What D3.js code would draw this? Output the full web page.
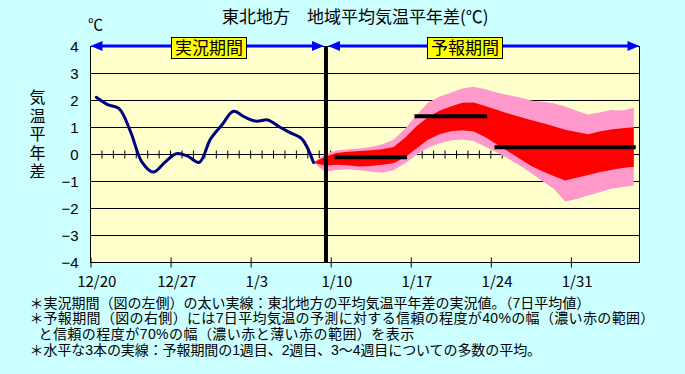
<!DOCTYPE html>
<html>
<head>
<meta charset="utf-8">
<script src="https://cdn.jsdelivr.net/npm/d3@7"></script>
<style>
  html, body { margin: 0; padding: 0; background: #ccffff; }
  svg { display: block; }
</style>
</head>
<body>
<svg id="chart" width="685" height="374"></svg>
<script>
// 東北地方 地域平均気温平年差 (12/20 から 1 日ごと)
const title = '東北地方　地域平均気温平年差(℃)';
const unitLabel = '℃';
const yAxisTitle = '気温平年差';
const dateLabels = ['12/20', '12/27', '1/3', '1/10', '1/17', '1/24', '1/31'];
const yTicks = [-4, -3, -2, -1, 0, 1, 2, 3, 4];
const totalDays = 48;
const boundaryDay = 20.5;
const periodLabels = ['実況期間', '予報期間'];

// 実況値 (7日平均), 12/20 + 0.5 日から
const observedStart = 0.5;
const observed = [2.12, 1.85, 1.70, 0.85, -0.28, -0.65, -0.29, 0.03, -0.06, -0.29,
                  0.58, 1.10, 1.60, 1.38, 1.23, 1.28, 1.03, 0.80, 0.57, -0.30];

// 予報 (70% 幅 = 薄い赤, 40% 幅 = 濃い赤)
const forecastStart = 19.5;
const upper70 = [-0.30, 0.02, 0.15, 0.19, 0.22, 0.28, 0.38, 0.55, 0.95, 1.45,
                 1.92, 2.14, 2.29, 2.44, 2.51, 2.42, 2.30, 2.20, 2.12, 2.00,
                 1.95, 1.90, 1.78, 1.62, 1.48, 1.56, 1.65, 1.63, 1.72];
const upper40 = [-0.30, -0.08, 0.06, 0.10, 0.13, 0.16, 0.19, 0.28, 0.62, 1.05,
                 1.38, 1.62, 1.78, 1.92, 1.93, 1.80, 1.66, 1.52, 1.40, 1.28,
                 1.17, 1.05, 0.92, 0.83, 0.75, 0.85, 0.93, 0.97, 1.01];
const lower40 = [-0.30, -0.42, -0.38, -0.40, -0.44, -0.43, -0.38, -0.32, -0.10, 0.22,
                 0.55, 0.75, 0.86, 0.90, 0.85, 0.65, 0.38, 0.12, -0.15, -0.42,
                 -0.62, -0.80, -0.96, -0.86, -0.76, -0.66, -0.57, -0.50, -0.45];
const lower70 = [-0.30, -0.65, -0.57, -0.55, -0.58, -0.63, -0.68, -0.58, -0.32, -0.02,
                 0.25, 0.42, 0.52, 0.56, 0.50, 0.30, 0.08, -0.15, -0.40, -0.68,
                 -0.98, -1.27, -1.74, -1.65, -1.52, -1.40, -1.27, -1.20, -1.15];

// 1週目, 2週目, 3～4週目の平均
const weekFrom = [21.5, 28.5, 35.5];
const weekTo = [27.5, 34.5, 47.5];
const weekMean = [-0.10, 1.42, 0.27];

const notes = [
  { star: true, text: '実況期間（図の左側）の太い実線：東北地方の平均気温平年差の実況値。（7日平均値）' },
  { star: true, text: '予報期間（図の右側）には7日平均気温の予測に対する信頼の程度が40%の幅（濃い赤の範囲）' },
  { star: false, text: 'と信頼の程度が70%の幅（濃い赤と薄い赤の範囲）を表示' },
  { star: true, text: '水平な3本の実線：予報期間の1週目、2週目、3～4週目についての多数の平均。' }
];

const jp = '"Noto Sans CJK JP", "Noto Sans", sans-serif';
const svg = d3.select('#chart');

const x = d3.scaleLinear().domain([0, totalDays]).range([90.5, 639.5]);
const y = d3.scaleLinear().domain([-4, 4]).range([262.5, 46.5]);

// plot background
svg.append('rect')
  .attr('x', x(0)).attr('y', y(4))
  .attr('width', x(totalDays) - x(0)).attr('height', y(-4) - y(4))
  .attr('fill', '#ffffcc');

// grid lines
svg.append('g').selectAll('line')
  .data(yTicks)
  .join('line')
  .attr('x1', x(0)).attr('x2', x(totalDays))
  .attr('y1', d => y(d)).attr('y2', d => y(d))
  .attr('stroke', '#000').attr('stroke-width', 1);

// daily ticks on the zero line
svg.append('g').selectAll('line')
  .data(d3.range(1, totalDays))
  .join('line')
  .attr('x1', d => x(d)).attr('x2', d => x(d))
  .attr('y1', y(0) - 4).attr('y2', y(0) + 4)
  .attr('stroke', '#000').attr('stroke-width', 1);

// forecast bands
const fDays = upper70.map((v, i) => forecastStart + i);
const band = (lo, hi) => d3.area()
  .x((d, i) => x(fDays[i]))
  .y0((d, i) => y(lo[i]))
  .y1((d, i) => y(hi[i]));

svg.append('path')
  .datum(fDays)
  .attr('fill', '#ff99cc')
  .attr('d', band(lower70, upper70));

svg.append('path')
  .datum(fDays)
  .attr('fill', '#ff0000')
  .attr('d', band(lower40, upper40));

// observed line
const line = d3.line()
  .x((d, i) => x(observedStart + i))
  .y(d => y(d))
  .curve(d3.curveCatmullRom.alpha(0.5));

svg.append('path')
  .datum(observed)
  .attr('fill', 'none')
  .attr('stroke', '#000080')
  .attr('stroke-width', 3)
  .attr('stroke-linejoin', 'round')
  .attr('stroke-linecap', 'round')
  .attr('d', line);

// weekly means
svg.append('g').selectAll('line')
  .data(weekMean)
  .join('line')
  .attr('x1', (d, i) => x(weekFrom[i])).attr('x2', (d, i) => x(weekTo[i]))
  .attr('y1', d => y(d)).attr('y2', d => y(d))
  .attr('stroke', '#000').attr('stroke-width', 4)
  .attr('stroke-linecap', 'square');

// frame
svg.append('rect')
  .attr('x', x(0)).attr('y', y(4))
  .attr('width', x(totalDays) - x(0)).attr('height', y(-4) - y(4))
  .attr('fill', 'none').attr('stroke', '#000').attr('stroke-width', 1);

// boundary line
const bx = x(boundaryDay) + 1;
svg.append('line')
  .attr('x1', bx).attr('x2', bx)
  .attr('y1', y(4)).attr('y2', y(-4))
  .attr('stroke', '#000').attr('stroke-width', 4);

// period arrows
const ay = y(4) - 0.5;
const arrows = [[x(0), bx - 2], [bx + 2, x(totalDays)]];
const head = (tip, dir) => `M${tip},${ay}L${tip - dir * 12},${ay - 5}L${tip - dir * 12},${ay + 5}Z`;
arrows.forEach(([a, b]) => {
  svg.append('line')
    .attr('x1', a + 6).attr('x2', b - 6)
    .attr('y1', ay).attr('y2', ay)
    .attr('stroke', '#0000ff').attr('stroke-width', 3);
  svg.append('path').attr('d', head(a, -1)).attr('fill', '#0000ff');
  svg.append('path').attr('d', head(b, 1)).attr('fill', '#0000ff');
});

// period labels
const labelCenters = [209, 465];
periodLabels.forEach((t, i) => {
  svg.append('rect')
    .attr('x', labelCenters[i] - 37.5).attr('y', 37.5)
    .attr('width', 75).attr('height', 21)
    .attr('fill', '#ffff00').attr('stroke', '#000').attr('stroke-width', 1);
  svg.append('text')
    .attr('x', labelCenters[i]).attr('y', 54)
    .attr('text-anchor', 'middle')
    .attr('font-family', jp).attr('font-size', 17)
    .attr('fill', '#000')
    .text(t);
});

// y axis
const yAxis = svg.append('g')
  .attr('transform', `translate(${x(0)},0)`)
  .call(d3.axisLeft(y).tickValues(yTicks).tickSize(0).tickPadding(12));
yAxis.select('.domain').remove();
yAxis.selectAll('text')
  .attr('font-family', '"Liberation Sans", Arial, sans-serif')
  .attr('font-size', 15)
  .attr('fill', '#000');

// x axis
const xAxis = svg.append('g')
  .attr('transform', `translate(0,${y(-4)})`)
  .call(d3.axisBottom(x)
    .tickValues(dateLabels.map((d, i) => i * 7))
    .tickFormat((d, i) => dateLabels[i])
    .tickSize(5).tickPadding(9));
xAxis.select('.domain').remove();
xAxis.selectAll('.tick line').attr('y1', -5).attr('stroke', '#000');
xAxis.selectAll('text')
  .attr('x', x(0.5) - x(0))
  .attr('font-family', jp)
  .attr('font-size', 15)
  .attr('fill', '#000');

// title and units
svg.append('text')
  .attr('x', 222).attr('y', 23)
  .attr('font-family', jp).attr('font-size', 17)
  .attr('fill', '#000')
  .text(title);

svg.append('text')
  .attr('x', 88).attr('y', 30)
  .attr('font-family', jp).attr('font-size', 15)
  .attr('fill', '#000')
  .text(unitLabel);

// vertical axis title
svg.append('text')
  .attr('x', 37.5).attr('y', 89)
  .style('writing-mode', 'vertical-rl')
  .style('letter-spacing', '2.5px')
  .attr('font-family', jp).attr('font-size', 16)
  .attr('fill', '#000')
  .text(yAxisTitle);

// footnotes: Latin font first keeps the line boxes as tight as the reference spacing
const noteFont = '"Liberation Sans", "Noto Sans CJK JP", sans-serif';
const noteSpacing = [0, 0.35, 0.45, -0.08];
const noteText = svg.append('text')
  .attr('font-family', noteFont).attr('font-size', 14)
  .attr('fill', '#000');
notes.forEach((n, i) => {
  const by = 307.5 + i * 15.67;
  if (n.star) {
    noteText.append('tspan')
      .attr('x', 29.5).attr('y', by)
      .text('＊');
  }
  noteText.append('tspan')
    .attr('x', n.star ? 43.5 : 38.5).attr('y', by)
    .style('letter-spacing', `${noteSpacing[i]}px`)
    .text(n.text);
});
</script>
</body>
</html>
